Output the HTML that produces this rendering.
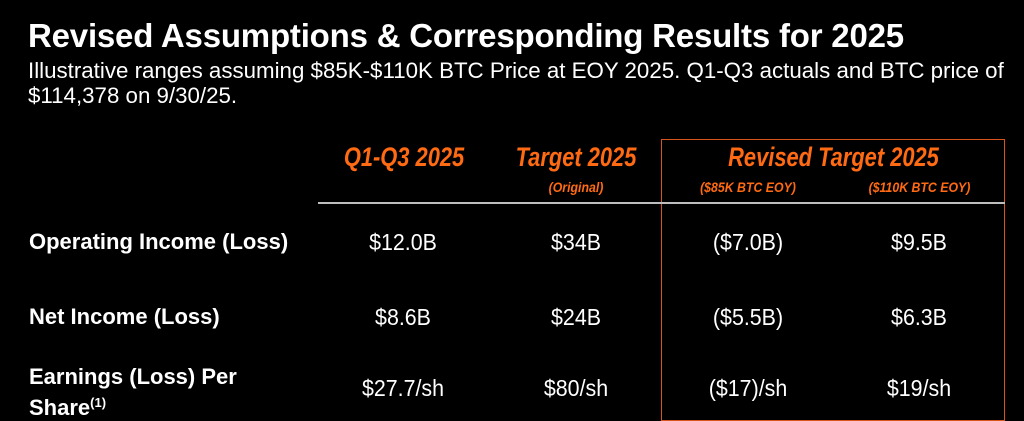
<!DOCTYPE html>
<html><head><meta charset="utf-8"><style>
body{margin:0;width:1024px;height:406px;background:#000;overflow:hidden;position:relative;font-family:"Liberation Sans",Arial,sans-serif;color:#fff}
.a{position:absolute;white-space:nowrap}
.title{left:28px;top:17px;font-size:33px;font-weight:bold;letter-spacing:-0.2px}
.sub{left:28px;font-size:22.3px}
.hd{color:#ff6a13;font-weight:bold;font-style:italic;font-size:27px;line-height:30px;text-align:center;transform:scaleX(0.81)}
.sh{color:#ff6a13;font-weight:bold;font-style:italic;font-size:14px;line-height:16px;text-align:center;transform:scaleX(0.88)}
.lbl{left:29px;font-size:22px;font-weight:bold}
.v{font-size:23px;line-height:26px;text-align:center;width:170px;transform:scaleX(0.93)}
</style></head><body>
<div class="a title">Revised Assumptions &amp; Corresponding Results for 2025</div>
<div class="a sub" style="top:58px">Illustrative ranges assuming $85K-$110K BTC Price at EOY 2025. Q1-Q3 actuals and BTC price of</div>
<div class="a sub" style="top:83px">$114,378 on 9/30/25.</div>

<div class="a" style="left:661px;top:139px;width:342px;height:280px;border:1.5px solid #d9541a"></div>
<div class="a" style="left:318px;top:202px;width:687px;height:2px;background:#bdbdbd"></div>

<div class="a hd" style="left:319px;top:142px;width:170px">Q1-Q3 2025</div>
<div class="a hd" style="left:491px;top:142px;width:170px">Target 2025</div>
<div class="a hd" style="left:662px;top:142px;width:343px">Revised Target 2025</div>
<div class="a sh" style="left:491px;top:179px;width:170px">(Original)</div>
<div class="a sh" style="left:662px;top:179px;width:172px">($85K BTC EOY)</div>
<div class="a sh" style="left:834px;top:179px;width:171px">($110K BTC EOY)</div>

<div class="a lbl" style="top:229px">Operating Income (Loss)</div>
<div class="a v" style="left:318px;top:229px">$12.0B</div>
<div class="a v" style="left:491px;top:229px">$34B</div>
<div class="a v" style="left:663px;top:229px">($7.0B)</div>
<div class="a v" style="left:834px;top:229px">$9.5B</div>

<div class="a lbl" style="top:304px">Net Income (Loss)</div>
<div class="a v" style="left:318px;top:304px">$8.6B</div>
<div class="a v" style="left:491px;top:304px">$24B</div>
<div class="a v" style="left:663px;top:304px">($5.5B)</div>
<div class="a v" style="left:834px;top:304px">$6.3B</div>

<div class="a lbl" style="top:364px;line-height:26px">Earnings (Loss) Per<br>Share<sup style="font-size:13px;vertical-align:8px">(1)</sup></div>
<div class="a v" style="left:318px;top:375px">$27.7/sh</div>
<div class="a v" style="left:491px;top:375px">$80/sh</div>
<div class="a v" style="left:663px;top:375px">($17)/sh</div>
<div class="a v" style="left:834px;top:375px">$19/sh</div>
</body></html>
